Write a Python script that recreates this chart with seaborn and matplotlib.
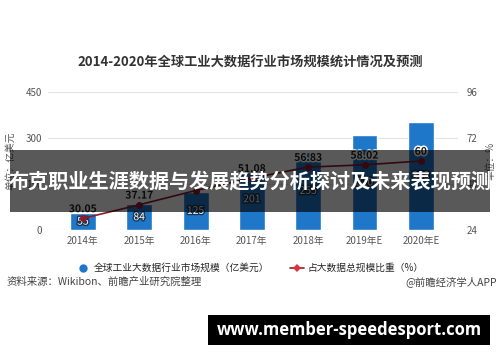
import numpy as np
import pandas as pd
import matplotlib
matplotlib.use('Agg')
import matplotlib.pyplot as plt
import matplotlib.patheffects as pe
from matplotlib.patches import Rectangle
from matplotlib.lines import Line2D
import seaborn as sns

# Data
years = ['2014年', '2015年', '2016年', '2017年', '2018年', '2019年E', '2020年E']
market_size = [55, 84, 125, 201, 255, 310, 353]          # 亿美元
share_pct = [30.05, 37.17, 44.6, 51.08, 56.83, 58.02, 60]  # %

df = pd.DataFrame({'year': years, 'size': market_size, 'share': share_pct})

sns.set_theme(style='white')
plt.rcParams['font.family'] = ['Noto Sans CJK SC', 'DejaVu Sans']
plt.rcParams['axes.unicode_minus'] = False

bar_color = '#1f77c9'
line_color = '#8e1b2b'
tick_color = '#555555'

fig = plt.figure(figsize=(5, 3.62), dpi=100)
ax = fig.add_axes([0.096, 0.3646, 0.82, 0.3812])

sns.barplot(data=df, x='year', y='size', color=bar_color, width=0.46,
            saturation=1, ax=ax)
ax.set_xlim(-0.62, 6.66)
ax.set_ylim(0, 450)
ax.set_yticks([0, 150, 300, 450])
ax.grid(axis='y', color='#e3e3e3', linewidth=0.8)
ax.set_axisbelow(True)
for s in ax.spines.values():
    s.set_visible(False)
ax.tick_params(axis='both', length=0, labelsize=7, colors=tick_color, pad=4)
ax.set_xlabel('')
ax.set_ylabel('单位：亿美元', fontsize=7, color=tick_color, labelpad=8)

ax2 = ax.twinx()
sns.lineplot(data=df, x='year', y='share', color=line_color, linewidth=1.2,
             marker='o', markersize=5, markeredgewidth=0, ax=ax2, sort=False)
ax2.set_ylim(24, 96)
ax2.set_yticks([24, 48, 72, 96])
for s in ax2.spines.values():
    s.set_visible(False)
ax2.tick_params(axis='y', length=0, labelsize=7, colors=tick_color, pad=6)
ax2.set_ylabel('单位：%', fontsize=7, color=tick_color, labelpad=6)
ax2.grid(False)

# labels
outline_dark = [pe.withStroke(linewidth=2, foreground='#1a3550')]
outline_white = [pe.withStroke(linewidth=2.2, foreground='white')]
for i, v in enumerate(market_size):
    ax.text(i, v / 2, f'{v}', ha='center', va='center', fontsize=7.5,
            color='white', path_effects=outline_dark)
for i, v in enumerate(share_pct):
    lab = f'{v:g}' if v != 44.6 else ''
    ax2.text(i, v + 2.2, lab, ha='center', va='bottom', fontsize=7.5,
             color='#222222', fontweight='bold', path_effects=outline_white)

# title
fig.text(0.5, 1 - 63 / 362, '2014-2020年全球工业大数据行业市场规模统计情况及预测',
         ha='center', va='center', fontsize=9.5, fontweight='bold', color='#333333')

# legend
handles = [Line2D([0], [0], marker='o', color='none', markerfacecolor=bar_color,
                  markeredgewidth=0, markersize=6),
           Line2D([0], [0], marker='D', color=line_color, markerfacecolor='#e0303a',
                  markeredgewidth=0, markersize=4, linewidth=1.2)]
fig.legend(handles, ['全球工业大数据行业市场规模（亿美元）', '占大数据总规模比重（%）'],
           loc='center', bbox_to_anchor=(0.5, 1 - 268 / 362), ncol=2, frameon=False,
           fontsize=7, handlelength=1.4, columnspacing=2.2, handletextpad=0.4)

# source line
fig.text(7 / 500, 1 - 282 / 362, '资料来源：Wikibon、前瞻产业研究院整理',
         ha='left', va='center', fontsize=7.5, color='#444444')
fig.text(497 / 500, 1 - 282 / 362, '@前瞻经济学人APP',
         ha='right', va='center', fontsize=7.5, color='#444444')

# overlay banner
fig.patches.append(Rectangle((10 / 500, 1 - 212 / 362), 480 / 500, 62 / 362,
                             transform=fig.transFigure, facecolor='black',
                             alpha=0.65, edgecolor='none', zorder=10))
fig.text(0.5, 1 - 182 / 362, '布克职业生涯数据与发展趋势分析探讨及未来表现预测',
         ha='center', va='center', fontsize=14.5, fontweight='bold',
         color='white', zorder=11)

# url box
fig.patches.append(Rectangle((208 / 500, 1 - 345 / 362), 282 / 500, 30 / 362,
                             transform=fig.transFigure, facecolor='black',
                             edgecolor='none', zorder=10))
fig.text(349 / 500, 1 - 330 / 362, 'www.member-speedesport.com',
         ha='center', va='center', fontsize=12, fontweight='bold',
         family=['Open Sans', 'DejaVu Sans'], color='white', zorder=11)

fig.savefig('out.png', dpi=100)
